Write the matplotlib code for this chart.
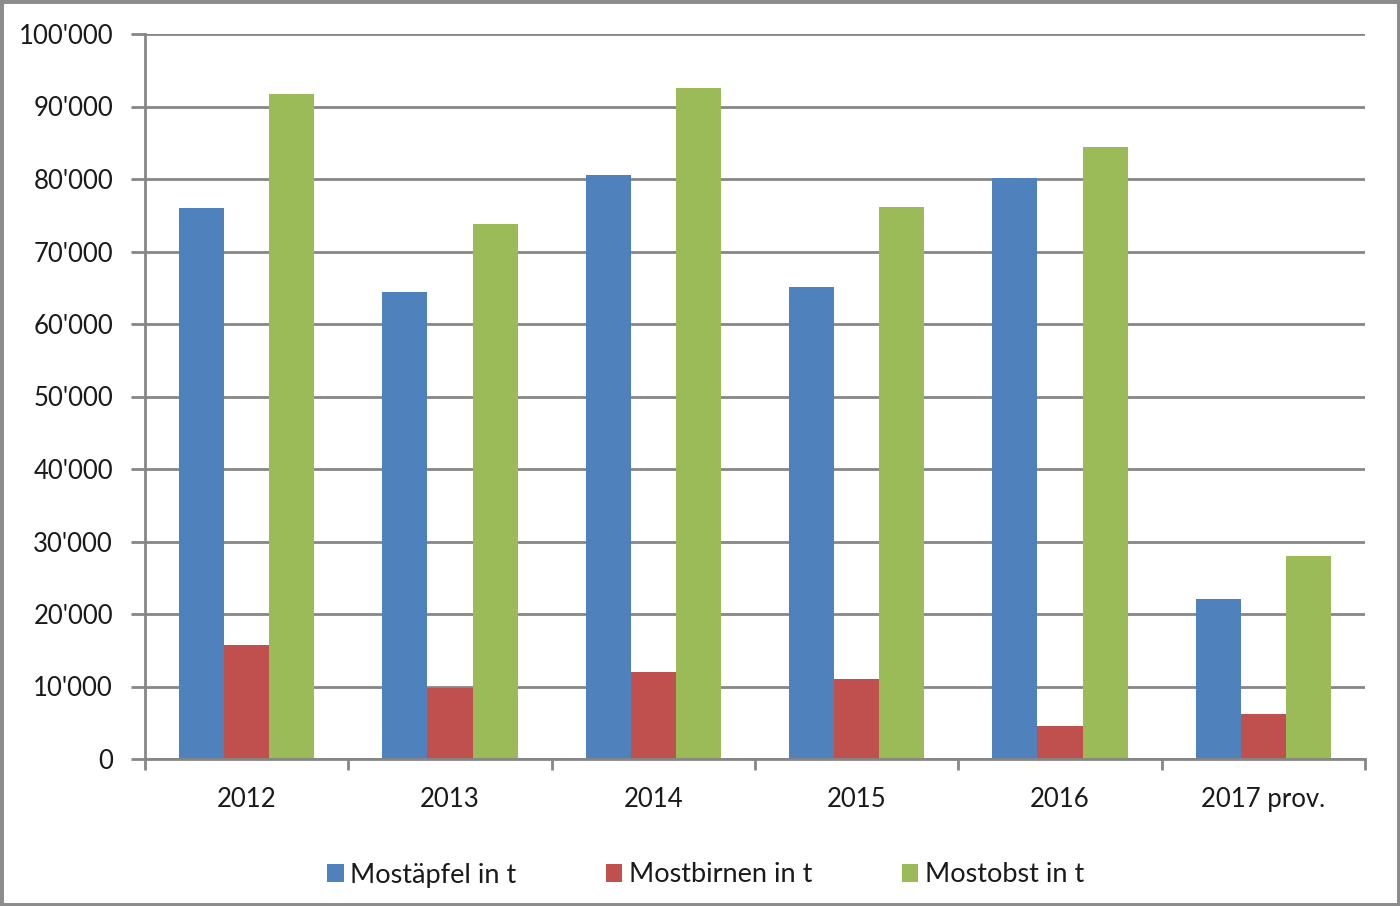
import numpy as np
import matplotlib.pyplot as plt
from matplotlib.patches import Rectangle
from matplotlib.ticker import FuncFormatter

plt.rcParams['font.family'] = ['Lato', 'DejaVu Sans']

years = ["2012", "2013", "2014", "2015", "2016", "2017 prov."]
mostaepfel = [76000, 64400, 80500, 65100, 80100, 22100]
mostbirnen = [15700, 9800, 12000, 11000, 4500, 6200]
mostobst = [91700, 73800, 92500, 76100, 84400, 28000]

fig = plt.figure(figsize=(14, 9.06), dpi=100)
ax = fig.add_axes([145/1400, 1-759/906, 1220/1400, 725/906])

x = np.arange(len(years))
w = 0.222
grey = "#868686"
ax.set_axisbelow(True)
ax.bar(x - w, mostaepfel, w, color="#4F81BD", label="Mostäpfel in t")
ax.bar(x, mostbirnen, w, color="#C0504D", label="Mostbirnen in t")
ax.bar(x + w, mostobst, w, color="#9BBB59", label="Mostobst in t")

ax.set_xlim(-0.5, len(years) - 0.5)
ax.set_ylim(0, 100000)
ax.set_yticks(np.arange(0, 100001, 10000))
ax.yaxis.set_major_formatter(FuncFormatter(lambda v, p: f"{int(v):,}".replace(",", "'")))
ax.grid(axis="y", color=grey, linewidth=2)

ax.set_xticks(np.arange(-0.5, len(years), 1))
ax.set_xticklabels([])
ax.set_xticks(x, minor=True)
ax.set_xticklabels(years, minor=True)
ax.tick_params(axis="x", which="major", length=8, width=2, color=grey)
ax.tick_params(axis="x", which="minor", length=0, pad=20, labelsize=18.5, labelcolor="#1a1a1a")
ax.tick_params(axis="y", length=10, width=2, color=grey, pad=13, labelsize=18.5, labelcolor="#1a1a1a")

for s in ["top", "right"]:
    ax.spines[s].set_visible(False)
for s in ["left", "bottom"]:
    ax.spines[s].set_color(grey)
    ax.spines[s].set_linewidth(2)

leg = fig.legend(loc="center", bbox_to_anchor=(0.504, 1-875/906), ncol=3, frameon=False,
                 fontsize=19.5, handlelength=0.6, handleheight=0.6, handletextpad=0.25,
                 columnspacing=3.3)
for t in leg.get_texts():
    t.set_color("#1a1a1a")

fig.patches.append(Rectangle((0, 0), 1, 1, transform=fig.transFigure, fill=False,
                             edgecolor="#8c8c8c", linewidth=5))

fig.savefig("out.png", dpi=100)
